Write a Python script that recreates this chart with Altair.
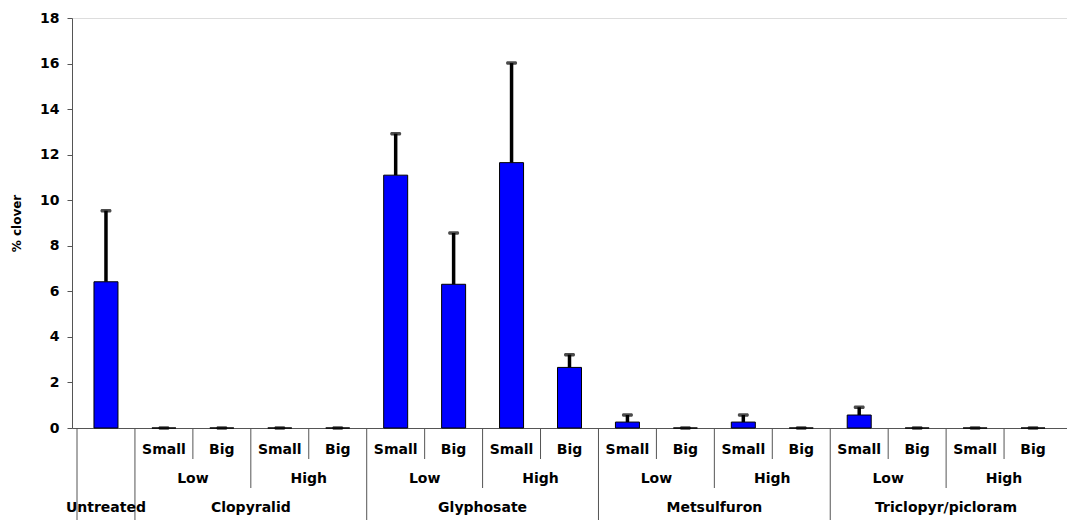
import altair as alt
import pandas as pd

# ---- data ----
herbicides = ["Untreated", "Clopyralid", "Glyphosate", "Metsulfuron", "Triclopyr/picloram"]
rates = ["Low", "High"]
sizes = ["Small", "Big"]
means = [6.42, 0, 0, 0, 0, 11.1, 6.31, 11.65, 2.66, 0.26, 0, 0.26, 0, 0.57, 0, 0, 0]
errors = [3.12, 0, 0, 0, 0, 1.82, 2.25, 4.37, 0.56, 0.31, 0, 0.31, 0, 0.34, 0, 0, 0]
y_ticks = [0, 2, 4, 6, 8, 10, 12, 14, 16, 18]

# ---- build tables ----
rows = [{"herb": "Untreated", "rate": "", "size": "", "pos": 0.5}]
i = 1
for h in herbicides[1:]:
    for r in rates:
        for s in sizes:
            rows.append({"herb": h, "rate": r, "size": s, "pos": i + 0.5})
            i += 1
df = pd.DataFrame(rows)
df["mean"] = means
df["upper"] = [m + e for m, e in zip(means, errors)]

size_df = df[df["size"] != ""]
rate_df = df[df["rate"] != ""].groupby(["herb", "rate"], as_index=False)["pos"].mean()
herb_df = df.groupby("herb", as_index=False)["pos"].mean()

# category boundaries with three separator depths
long_b = [0, 1, 5, 9, 13]
mid_b = [3, 7, 11, 15]
short_b = [2, 4, 6, 8, 10, 12, 14, 16]

W, H = 995, 410
FONT = "DejaVu Sans"
LINE = "#555555"

xs = alt.Scale(domain=[0, 17], nice=False, zero=False)
ys = alt.Scale(domain=[0, 18], nice=False)

base = alt.Chart(df)

bars = base.mark_bar(size=24, color="#0000FF", stroke="#000000", strokeWidth=1).encode(
    x=alt.X("pos:Q", scale=xs,
            axis=alt.Axis(labels=False, ticks=False, grid=False, title=None,
                          domainColor=LINE, domainWidth=1)),
    y=alt.Y("mean:Q", scale=ys,
            axis=alt.Axis(values=y_ticks, grid=False, title="% clover",
                          labelFont=FONT, labelFontSize=14, labelFontWeight="bold",
                          labelColor="#000000", titleFont=FONT, titleFontSize=12,
                          titleFontWeight="bold", titleColor="#000000", titlePadding=16,
                          tickSize=5, tickColor=LINE, domainColor=LINE,
                          labelPadding=8)),
)

err = base.mark_rule(color="#000000", strokeWidth=3.5).encode(
    x=alt.X("pos:Q", scale=xs), y=alt.Y("mean:Q", scale=ys), y2="upper:Q"
)
caps = base.mark_tick(color="#000000", orient="horizontal", size=11, thickness=3.5,
                      cornerRadius=1.5).encode(
    x=alt.X("pos:Q", scale=xs), y=alt.Y("upper:Q", scale=ys)
)


def sep_layer(vals, depth):
    return alt.Chart(pd.DataFrame({"b": vals})).mark_rule(color=LINE, strokeWidth=1).encode(
        x=alt.X("b:Q", scale=xs), y=alt.value(H), y2=alt.value(H + depth))


seps = [sep_layer(long_b, 92), sep_layer(mid_b, 60), sep_layer(short_b, 31)]

txt_kw = dict(font=FONT, fontSize=14, fontWeight="bold", color="#000000",
              baseline="middle", align="center")
size_txt = alt.Chart(size_df).mark_text(**txt_kw).encode(
    x=alt.X("pos:Q", scale=xs), y=alt.value(H + 22), text="size:N")
rate_txt = alt.Chart(rate_df).mark_text(**txt_kw).encode(
    x=alt.X("pos:Q", scale=xs), y=alt.value(H + 51), text="rate:N")
herb_txt = alt.Chart(herb_df).mark_text(**txt_kw).encode(
    x=alt.X("pos:Q", scale=xs), y=alt.value(H + 80), text="herb:N")

chart = alt.layer(bars, err, caps, *seps, size_txt, rate_txt, herb_txt).properties(
    width=W, height=H,
    autosize=alt.AutoSizeParams(type="none"),
    padding={"left": 72, "top": 18, "right": 0, "bottom": 92},
).configure_view(stroke=None).configure(background="#ffffff")

chart.save("out.html", embed_options={"renderer": "svg", "actions": False})
